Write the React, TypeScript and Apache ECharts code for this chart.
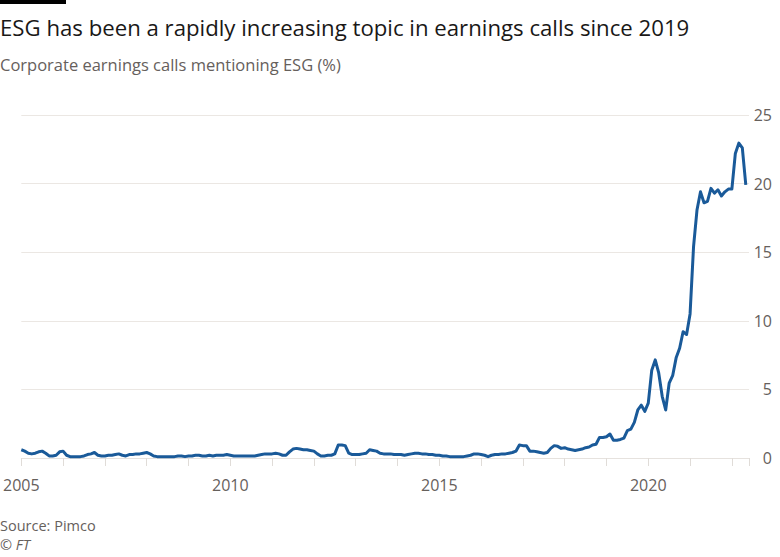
import React, { useEffect, useRef } from "react";
import * as echarts from "echarts";

const TITLE = "ESG has been a rapidly increasing topic in earnings calls since 2019";
const SUBTITLE = "Corporate earnings calls mentioning ESG (%)";
const SOURCE = "Source: Pimco";
const CREDIT = "© FT";

const START_YEAR = 2005;
// Monthly values (%) by year, Jan..Dec
const v2005 = [0.6, 0.5, 0.35, 0.3, 0.35, 0.45, 0.5, 0.35, 0.15, 0.15, 0.2, 0.45];
const v2006 = [0.5, 0.2, 0.1, 0.1, 0.1, 0.1, 0.15, 0.25, 0.3, 0.4, 0.2, 0.15];
const v2007 = [0.15, 0.2, 0.2, 0.25, 0.3, 0.2, 0.15, 0.25, 0.25, 0.3, 0.3, 0.35];
const v2008 = [0.4, 0.3, 0.15, 0.1, 0.1, 0.1, 0.1, 0.1, 0.1, 0.15, 0.15, 0.1];
const v2009 = [0.15, 0.15, 0.2, 0.2, 0.15, 0.15, 0.2, 0.15, 0.2, 0.2, 0.2, 0.25];
const v2010 = [0.2, 0.15, 0.15, 0.15, 0.15, 0.15, 0.15, 0.15, 0.2, 0.25, 0.3, 0.3];
const v2011 = [0.3, 0.35, 0.3, 0.2, 0.2, 0.45, 0.65, 0.7, 0.65, 0.6, 0.6, 0.55];
const v2012 = [0.5, 0.3, 0.15, 0.15, 0.2, 0.2, 0.3, 0.95, 0.95, 0.9, 0.35, 0.25];
const v2013 = [0.25, 0.25, 0.3, 0.35, 0.6, 0.55, 0.5, 0.35, 0.3, 0.3, 0.3, 0.25];
const v2014 = [0.25, 0.25, 0.2, 0.25, 0.3, 0.35, 0.35, 0.3, 0.3, 0.25, 0.25, 0.2];
const v2015 = [0.2, 0.15, 0.15, 0.1, 0.1, 0.1, 0.1, 0.1, 0.15, 0.2, 0.3, 0.3];
const v2016 = [0.25, 0.2, 0.1, 0.2, 0.25, 0.25, 0.3, 0.3, 0.35, 0.4, 0.5, 0.95];
const v2017 = [0.9, 0.9, 0.5, 0.5, 0.45, 0.4, 0.35, 0.4, 0.7, 0.9, 0.85, 0.7];
const v2018 = [0.75, 0.65, 0.6, 0.55, 0.6, 0.65, 0.75, 0.8, 0.95, 1.0, 1.5, 1.5];
const v2019 = [1.55, 1.75, 1.3, 1.3, 1.35, 1.45, 2.0, 2.1, 2.6, 3.5, 3.85, 3.4];
const v2020 = [4.0, 6.4, 7.15, 6.2, 4.5, 3.5, 5.45, 6.0, 7.3, 8.0, 9.2, 9.0];
const v2021 = [10.5, 15.4, 18.1, 19.4, 18.6, 18.7, 19.65, 19.3, 19.55, 19.1, 19.4, 19.6];
const v2022 = [19.6, 22.2, 22.95, 22.6, 19.9];

const yearly = [v2005, v2006, v2007, v2008, v2009, v2010, v2011, v2012, v2013, v2014, v2015, v2016, v2017, v2018, v2019, v2020, v2021, v2022];

const Y_TICKS = [0, 5, 10, 15, 20, 25];
const X_LABEL_YEARS = [2005, 2010, 2015, 2020];

export default function App() {
  const ref = useRef<HTMLDivElement>(null);
  useEffect(() => {
    if (!ref.current) return;
    const chart = echarts.init(ref.current, null, { renderer: "svg" });
    const data: [number, number][] = [];
    yearly.forEach((arr, yi) => {
      arr.forEach((v, m) => data.push([START_YEAR + yi + m / 12, v]));
    });
    const font = "'Open Sans', 'Noto Sans', sans-serif";
    chart.setOption({
      animation: false,
      backgroundColor: "#ffffff",
      grid: { left: 21, right: 31, top: 115, bottom: 99, containLabel: false },
      xAxis: {
        type: "value",
        min: 2005,
        max: 2022.41,
        interval: 1,
        axisLine: { show: true, lineStyle: { color: "#e6e2de", width: 1 } },
        axisTick: { show: true, length: 8, lineStyle: { color: "#e0dcd8" } },
        splitLine: { show: false },
        axisLabel: {
          margin: 19,
          color: "#66605c",
          fontFamily: font,
          fontSize: 16,
          formatter: (v: number) => (X_LABEL_YEARS.includes(Math.round(v)) && Math.abs(v - Math.round(v)) < 1e-6 ? String(Math.round(v)) : ""),
        },
      },
      yAxis: {
        type: "value",
        position: "right",
        min: Y_TICKS[0],
        max: Y_TICKS[Y_TICKS.length - 1],
        interval: 5,
        axisLine: { show: false },
        axisTick: { show: false },
        splitLine: { show: true, lineStyle: { color: "#ebe7e3", width: 1 } },
        axisLabel: {
          margin: 23,
          align: "right",
          color: "#66605c",
          fontFamily: font,
          fontSize: 16,
        },
      },
      series: [
        {
          type: "line",
          data,
          showSymbol: false,
          symbol: "none",
          lineStyle: { color: "#1a5a99", width: 3, join: "round" },
        },
      ],
      graphic: [
        { type: "rect", left: 0, top: 0, shape: { width: 66, height: 4 }, style: { fill: "#000000" } },
        {
          type: "text",
          left: 0,
          top: 16,
          style: { text: TITLE, fill: "#1a1817", font: `22.2px ${font}` },
        },
        {
          type: "text",
          left: 0,
          top: 56,
          style: { text: SUBTITLE, fill: "#66605c", font: `16.5px ${font}` },
        },
        {
          type: "text",
          left: 0,
          top: 518,
          style: { text: SOURCE, fill: "#66605c", font: `14.5px ${font}` },
        },
        {
          type: "text",
          left: 0,
          top: 537,
          style: { text: CREDIT, fill: "#66605c", font: `italic 14.5px ${font}` },
        },
      ],
    });
    return () => chart.dispose();
  }, []);
  return <div ref={ref} style={{ width: 780, height: 557, position: "absolute", left: 0, top: 0 }} />;
}
